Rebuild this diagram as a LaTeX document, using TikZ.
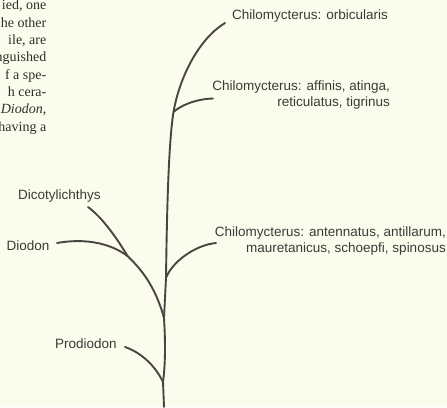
\documentclass[tikz,border=0pt]{standalone}
\usepackage{fontspec}
\setmainfont{Liberation Serif}
\setsansfont{Liberation Sans}
\usetikzlibrary{positioning}

\definecolor{paper}{RGB}{252,252,236}
\definecolor{ink}{RGB}{72,70,64}
\definecolor{print}{RGB}{58,58,56}

\begin{document}
\begin{tikzpicture}[x=1pt,y=-1pt]
	\tikzstyle{taxon}=[font=\sffamily\fontsize{13.5}{16.5}\selectfont, text=print, inner sep=0pt]
	\tikzstyle{column}=[font=\rmfamily\fontsize{14}{17.3}\selectfont, text=print!80!black, inner sep=0pt, align=right]
	\tikzstyle{branch}=[draw=ink, line width=1.9pt, line cap=round]

	\fill[paper] (0,0) rectangle (447,407);
	\useasboundingbox (0,0) rectangle (447,407);

	% running text of the page, cut by the left margin
	\begin{scope}
	\clip (0,0) rectangle (447,407);
	\node[column, anchor=base east] (page) at (46.5,131)
	{ied, one\\ he other\\ ile, are\\ nguished\\ f a spe-\\ h cera-\\ \textit{Diodon},\\ having a};
	\end{scope}

	% genera and species groups (base is the last line)
	\node[taxon, anchor=base west] (orb) at (232,19.5) {Chilomycterus: orbicularis};
	\node[taxon, anchor=base east, align=right] (aff) at (390,106.7) {Chilomycterus: affinis, atinga,\\ reticulatus, tigrinus};
	\node[taxon, anchor=base east, align=right] (ant) at (446,252.7) {Chilomycterus: antennatus, antillarum,\\ mauretanicus, schoepfi, spinosus};
	\node[taxon, anchor=base west] (dico) at (18,199.5) {Dicotylichthys};
	\node[taxon, anchor=base west] (dio) at (6.5,250) {Diodon};
	\node[taxon, anchor=base west] (pro) at (55,348) {Prodiodon};

	% forks and tips of the tree
	\coordinate (root) at (164,407);
	\coordinate (fpro) at (163,382);
	\coordinate (fdio) at (164,318);
	\coordinate (fant) at (166,278);
	\coordinate (faff) at (173.5,112);
	\coordinate (fdico) at (127.5,256);
	\coordinate (torb) at (225,23);
	\coordinate (taff) at (213,98.5);
	\coordinate (tant) at (216,243);
	\coordinate (tdico) at (88,207);
	\coordinate (tdio) at (57,243);
	\coordinate (tpro) at (125,347);

	\draw[branch] (root) -- (fpro) .. controls (166,360) and (165,335) .. (fdio)
		-- (fant) .. controls (167,200) and (169,140) .. (faff)
		.. controls (180,75) and (200,38) .. (torb);
	\draw[branch] (faff) .. controls (180,106) and (195,99) .. (taff);
	\draw[branch] (fant) .. controls (172,262) and (195,245) .. (tant);
	\draw[branch] (fdio) .. controls (155,285) and (140,268) .. (fdico)
		.. controls (110,243) and (85,238) .. (tdio);
	\draw[branch] (fdico) .. controls (118,240) and (103,218) .. (tdico);
	\draw[branch] (fpro) .. controls (155,365) and (140,352) .. (tpro);
\end{tikzpicture}
\end{document}
